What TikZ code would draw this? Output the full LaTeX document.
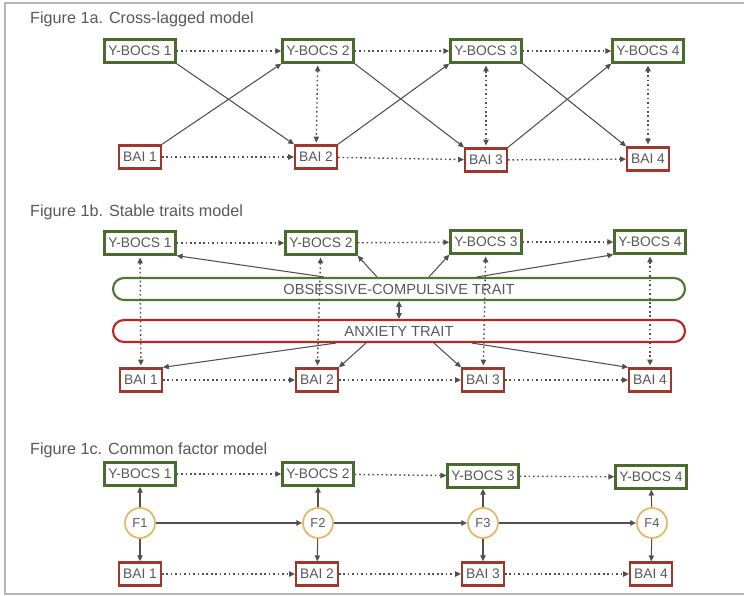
\documentclass[tikz,border=0pt]{standalone}
\usepackage{fontspec}
\setmainfont{Liberation Sans}
\usetikzlibrary{arrows.meta,calc}

\definecolor{ygreen}{RGB}{72,108,46}
\definecolor{bred}{RGB}{156,56,46}
\definecolor{ocgreen}{RGB}{78,118,52}
\definecolor{anxred}{RGB}{190,36,36}
\definecolor{forange}{RGB}{232,182,104}
\definecolor{arrowgrey}{RGB}{80,80,80}
\definecolor{textgrey}{RGB}{88,88,88}
\definecolor{framegrey}{RGB}{182,182,182}

\tikzset{
	title/.style = {anchor = west, inner sep = 0pt, text = textgrey, font = \fontsize{13.8}{16}\selectfont},
	ybox/.style = {draw = ygreen, line width = 2pt, minimum height = 0.69 cm, inner xsep = 3.3pt, text = textgrey, font = \fontsize{11.8}{13}\selectfont},
	bbox/.style = {ybox, draw = bred},
	trait/.style = {line width = 1.8pt, minimum width = 17.16 cm, minimum height = 0.66 cm, rounded corners = 0.33 cm, text = textgrey, font = \fontsize{12.5}{14}\selectfont},
	factor/.style = {circle, draw = forange, line width = 1.5pt, minimum size = 0.9 cm, inner sep = 0pt, text = textgrey, font = \fontsize{11}{13}\selectfont},
	tip/.tip = {Triangle[length = 5pt, width = 4.5pt]},
	dotarrow/.style = {arrowgrey, line width = 1.2pt, dash pattern = on 1.4pt off 2.4pt, -tip},
	dotboth/.style = {dotarrow, tip-tip, shorten < = 1.5pt, shorten > = 1.5pt},
	solidarrow/.style = {arrowgrey, line width = 0.9pt, -tip},
	factorarrow/.style = {arrowgrey, line width = 1.4pt, -tip}
}

\begin{document}
\begin{tikzpicture}[x = 0.03 cm, y = -0.03 cm]
	 \useasboundingbox (0, 0) rectangle (744, 596);
	 \draw[framegrey, line width = 1.5pt] (744, 3) -- (5, 3) -- (5, 594) -- (744, 594);
	 
	 \node[title] (titlea) at (30, 19) {Figure 1a. Cross-lagged model};
	 \node[title] (titleb) at (30, 212) {Figure 1b. Stable traits model};
	 \node[title] (titlec) at (30, 450) {Figure 1c. Common factor model};
	 
	 \foreach \i/\x/\y in {1/140/51, 2/318/51, 3/486/51, 4/648/51}
	 \node[ybox] (ya\i) at (\x, \y) {Y-BOCS \i};
	 \foreach \i/\x/\y in {1/140/157, 2/316/157, 3/486/160, 4/648/159}
	 \node[bbox] (ba\i) at (\x, \y) {BAI \i};
	 
	 \foreach \i/\j in {1/2, 2/3, 3/4}
	 {
	 \draw[dotarrow] (ya\i) -- (ya\j);
	 \draw[dotarrow] (ba\i) -- (ba\j);
	 \draw[solidarrow] (ya\i.south east) -- (ba\j.north west);
	 \draw[solidarrow] (ba\i.north east) -- (ya\j.south west);
	 }
	 \foreach \i in {2, 3, 4}
	 \draw[dotboth] (ya\i) -- (ba\i);
	 
	 \foreach \i/\x/\y in {1/140/243, 2/321/243, 3/486/242, 4/650/242}
	 \node[ybox] (yb\i) at (\x, \y) {Y-BOCS \i};
	 \foreach \i/\x/\y in {1/141/380, 2/317/380, 3/483/380, 4/650/380}
	 \node[bbox] (bb\i) at (\x, \y) {BAI \i};
	 
	 \node[trait, draw = ocgreen] (oc) at (399, 289) {OBSESSIVE-COMPULSIVE TRAIT};
	 \node[trait, draw = anxred] (anx) at (399, 331) {ANXIETY TRAIT};
	 
	 \draw[solidarrow, tip-tip, line width = 1.2pt] (oc) -- (anx);
	 
	 \draw[solidarrow] ($(oc.north west) + (212, 0)$) -- (yb1.south east);
	 \draw[solidarrow] ($(oc.north west) + (265, 0)$) -- (yb2.south east);
	 \draw[solidarrow] ($(oc.north west) + (317, 0)$) -- (yb3.south west);
	 \draw[solidarrow] ($(oc.north west) + (365, 0)$) -- (yb4.south west);
	 
	 \draw[solidarrow] ($(anx.south west) + (224, 0)$) -- (bb1.north east);
	 \draw[solidarrow] ($(anx.south west) + (254, 0)$) -- (bb2.north east);
	 \draw[solidarrow] ($(anx.south west) + (322, 0)$) -- (bb3.north west);
	 \draw[solidarrow] ($(anx.south west) + (360, 0)$) -- (bb4.north west);
	 
	 \foreach \i/\j in {1/2, 2/3, 3/4}
	 {
	 \draw[dotarrow] (yb\i) -- (yb\j);
	 \draw[dotarrow] (bb\i) -- (bb\j);
	 }
	 \foreach \i in {1, 2, 3, 4}
	 \draw[dotboth] (yb\i) -- (bb\i);
	 
	 \foreach \i/\x/\y in {1/140/474, 2/318/474, 3/483/476, 4/651/477}
	 \node[ybox] (yc\i) at (\x, \y) {Y-BOCS \i};
	 \foreach \i/\x in {1/140, 2/318, 3/483, 4/652}
	 \node[factor] (f\i) at (\x, 523) {F\i};
	 \foreach \i/\x/\y in {1/140/574, 2/317/574, 3/483/574, 4/651/574}
	 \node[bbox] (bc\i) at (\x, \y) {BAI \i};
	 
	 \foreach \i in {1, 2, 3, 4}
	 {
	 \draw[solidarrow] (f\i) -- (yc\i);
	 \draw[solidarrow] (f\i) -- (bc\i);
	 }
	 \foreach \i/\j in {1/2, 2/3, 3/4}
	 {
	 \draw[dotarrow] (yc\i) -- (yc\j);
	 \draw[dotarrow] (bc\i) -- (bc\j);
	 \draw[factorarrow] (f\i) -- (f\j);
	 }
\end{tikzpicture}
\end{document}
